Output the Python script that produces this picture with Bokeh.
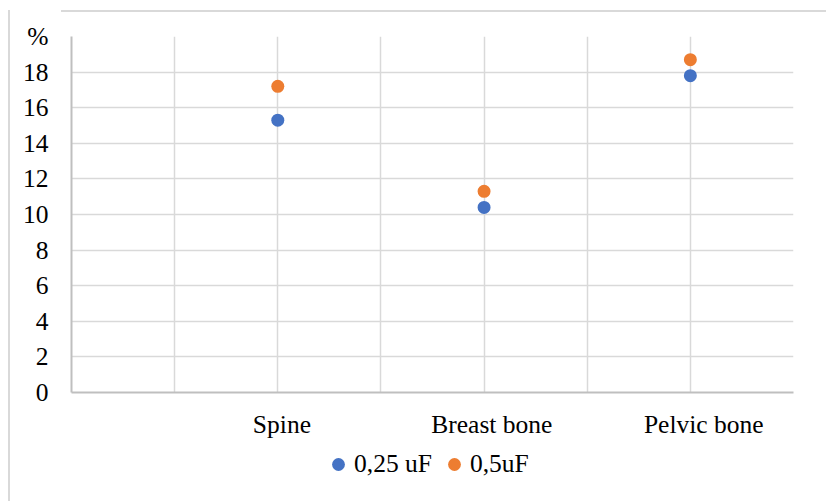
from bokeh.plotting import figure
from bokeh.layouts import column
from bokeh.models import (Range1d, FixedTicker, Legend, LegendItem, ColumnDataSource,
                          CustomJSTickFormatter, InlineStyleSheet)
from bokeh.embed import file_html
from bokeh.resources import INLINE

categories = ["Spine", "Breast bone", "Pelvic bone"]
series_025 = [15.3, 10.4, 17.8]
series_05 = [17.2, 11.3, 18.7]
series_names = ["0,25 uF", "0,5uF"]
y_ticks = [0, 2, 4, 6, 8, 10, 12, 14, 16, 18, 20]
top_label = "%"

FONT = "Liberation Serif"
FS = "25.5px"
BLUE = "#4472C4"
ORANGE = "#ED7D31"
GRID = "#D9D9D9"

xpos = [2 * (i + 1) for i in range(len(categories))]
label_nudge = [0.04, 0.075, 0.13]   # Excel centres its category texts slightly right
label_pos = [x + d for x, d in zip(xpos, label_nudge)]

frame_css = InlineStyleSheet(css="""
:host { position: relative; }
:host::before { content: ""; position: absolute; left: 8px; top: 10px; width: 2px;
                height: 440px; background: #D9D9D9; z-index: 10; }
:host::after { content: ""; position: absolute; left: 61px; top: 10px; width: 765px;
               height: 2px; background: #D9D9D9; z-index: 10; }
""")
frame_css2 = InlineStyleSheet(css="""
:host { position: relative; }
:host::before { content: ""; position: absolute; left: 8px; top: 0px; width: 2px;
                height: 51px; background: #D9D9D9; z-index: 10; }
""")

p = figure(width=826, height=450, output_backend="svg", toolbar_location=None,
           x_range=Range1d(0, 7), y_range=Range1d(0, 20),
           min_border_left=71, min_border_right=33, min_border_top=36, min_border_bottom=58,
           stylesheets=[frame_css])
p.outline_line_color = None
p.background_fill_color = "white"
p.border_fill_color = "white"

p.xaxis.ticker = FixedTicker(ticks=label_pos)
p.xaxis.formatter = CustomJSTickFormatter(args=dict(pos=label_pos, labels=categories), code="""
    let best = 0;
    for (let i = 0; i < pos.length; i++) {
        if (Math.abs(pos[i] - tick) < Math.abs(pos[best] - tick)) best = i;
    }
    return labels[best];
""")
p.xgrid.ticker = FixedTicker(ticks=list(range(8)))
p.yaxis.ticker = FixedTicker(ticks=y_ticks)
p.yaxis.major_label_overrides = {20: top_label}

for ax in (p.xaxis[0], p.yaxis[0]):
    ax.axis_line_color = "#BFBFBF"
    ax.axis_line_width = 2
    ax.major_tick_line_color = None
    ax.minor_tick_line_color = None
    ax.major_tick_out = 0
    ax.major_tick_in = 0
    ax.minor_tick_out = 0
    ax.major_label_text_font = FONT
    ax.major_label_text_font_size = FS
    ax.major_label_text_color = "black"
p.yaxis.major_label_standoff = 23
p.xaxis.major_label_standoff = 17

p.xgrid.grid_line_color = GRID
p.ygrid.grid_line_color = GRID
p.xgrid.grid_line_width = 1.5
p.ygrid.grid_line_width = 1.5

src = ColumnDataSource(dict(x=xpos, a=series_025, b=series_05))
p.scatter("x", "a", source=src, size=13, color=BLUE, line_color=None)
p.scatter("x", "b", source=src, size=13, color=ORANGE, line_color=None)

# legend strip below the chart
lg = figure(width=826, height=51, output_backend="svg", toolbar_location=None,
            x_range=Range1d(0, 1), y_range=Range1d(0, 1),
            min_border=0, outline_line_color=None, stylesheets=[frame_css2])
lg.axis.visible = False
lg.grid.visible = False
lg.border_fill_color = "white"
l1 = lg.scatter("x", "a", source=src, size=13, color=BLUE, line_color=None)
l2 = lg.scatter("x", "b", source=src, size=13, color=ORANGE, line_color=None)
legend = Legend(items=[LegendItem(label=series_names[0], renderers=[l1]),
                       LegendItem(label=series_names[1], renderers=[l2])],
                orientation="horizontal", location=(251, 21),
                border_line_color=None, background_fill_alpha=0,
                label_text_font=FONT, label_text_font_size=FS,
                label_text_color="black",
                glyph_width=32, glyph_height=32, label_standoff=-12, spacing=6,
                padding=0, margin=0)
lg.add_layout(legend, "center")

open("out.html", "w").write(file_html(column(p, lg, spacing=0), INLINE))
